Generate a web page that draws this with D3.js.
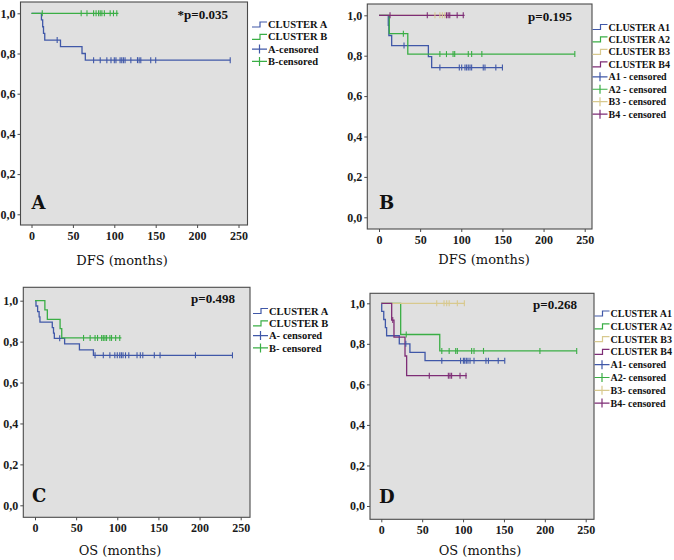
<!DOCTYPE html>
<html>
<head>
<meta charset="utf-8">
<script src="https://cdn.jsdelivr.net/npm/d3@7"></script>
<style>
  html, body { margin: 0; padding: 0; background: #ffffff; }
  svg { display: block; }
</style>
</head>
<body>
<svg id="chart" width="674" height="560"></svg>
<script>
// ---------------- DATA ----------------
const xTicks = [0, 50, 100, 150, 200, 250];
const yTicks = [0, 0.2, 0.4, 0.6, 0.8, 1.0];

// Panel A – DFS, clusters A / B  (steps: [time, survival after event])
const dfsA_steps = [[12, 0.967], [13.5, 0.933], [14.5, 0.9], [16, 0.867], [35, 0.834], [61, 0.800], [65, 0.767]];
const dfsA_end = 240;
const dfsA_censor = [31, 75, 83, 91, 96, 100, 102, 107, 109, 111, 113, 120, 128, 130, 132, 144, 150, 240];
const dfsB_steps = [];
const dfsB_end = 105;
const dfsB_censor = [13, 60, 67, 75, 78, 81, 83, 85, 88, 95, 99, 103];

// Panel B – DFS, clusters A1 / A2 / B3 / B4
const dfsA1_steps = [[11.3, 0.95], [12, 0.90], [15.4, 0.85], [60, 0.795], [64, 0.741]];
const dfsA1_end = 150;
const dfsA1_censor = [30.4, 74, 97.6, 100.5, 104.5, 106.5, 108.5, 110.6, 112.6, 126.7, 128.8, 142, 150];
const dfsA2_steps = [[12.5, 0.909], [35, 0.808]];
const dfsA2_end = 238;
const dfsA2_censor = [29.6, 74, 82, 90, 92, 108.5, 112.6, 125, 238];
const dfsB3_steps = [];
const dfsB3_end = 81;
const dfsB3_censor = [68, 74, 77, 80];
const dfsB4_steps = [];
const dfsB4_end = 104;
const dfsB4_censor = [13.4, 58.7, 82, 84, 86, 95, 102.4];

// Panel C – OS, clusters A / B
const osA_steps = [[1.2, 0.974], [3.2, 0.947], [5, 0.921], [6, 0.895], [21, 0.868], [22.5, 0.842], [23.5, 0.816], [36, 0.789], [54, 0.760], [71, 0.733]];
const osA_end = 240;
const osA_censor = [30, 73, 83, 91, 97, 100, 103, 105, 107, 110, 114, 124, 128, 131, 145, 152, 195, 240];
const osB_steps = [[12, 0.955], [15, 0.909], [30.5, 0.864], [32.5, 0.818]];
const osB_end = 105;
const osB_censor = [59, 67, 73, 76, 81, 83, 85, 87, 91, 93, 98, 103];

// Panel D – OS, clusters A1 / A2 / B3 / B4
const osA1_steps = [[0.5, 0.96], [3, 0.92], [5, 0.88], [6.5, 0.84], [22, 0.80], [35, 0.758], [53.5, 0.717]];
const osA1_end = 151;
const osA1_censor = [30, 74, 97, 100.4, 102, 104, 106, 108.5, 113.4, 128, 131, 143, 151];
const osA2_steps = [[23.7, 0.846], [71.5, 0.765]];
const osA2_end = 239;
const osA2_censor = [30.5, 74, 83, 91, 93, 110.5, 113.4, 125, 194, 239];
const osB3_steps = [];
const osB3_end = 102;
const osB3_censor = [67.8, 76.7, 80, 83, 93, 101.6];
const osB4_steps = [[12.7, 0.917], [15.5, 0.833], [29, 0.74], [31, 0.643]];
const osB4_end = 104.5;
const osB4_censor = [14, 58.7, 82, 84, 86, 96.3, 103.6];

const legendA = ["CLUSTER A", "CLUSTER B", "A-censored", "B-censored"];
const legendB = ["CLUSTER A1", "CLUSTER A2", "CLUSTER B3", "CLUSTER B4", "A1 - censored", "A2 - censored", "B3 - censored", "B4 - censored"];
const legendC = ["CLUSTER A", "CLUSTER B", "A- censored", "B- censored"];
const legendD = ["CLUSTER A1", "CLUSTER A2", "CLUSTER B3", "CLUSTER B4", "A1- censored", "A2- censored", "B3- censored", "B4- censored"];

const pValues = ["*p=0.035", "p=0.195", "p=0.498", "p=0.268"];
const panelLetters = ["A", "B", "C", "D"];
const axisTitles = ["DFS (months)", "DFS (months)", "OS (months)", "OS (months)"];

// ---------------- STYLE / LAYOUT ----------------
const COL = { blue: "#4058a8", green: "#3aae45", tan: "#d8c98e", purple: "#7e2d76" };
const FONT = "'DejaVu Serif', serif";
const FONT_T = "'Liberation Serif', 'Times New Roman', serif";

const panels = [
  { frame: [20.5, 2, 247.5, 225], xr: [31.5, 238.5], yr: [214.3, 13.3],
    series: [
      { steps: dfsA_steps, end: dfsA_end, censor: dfsA_censor, color: COL.blue },
      { steps: dfsB_steps, end: dfsB_end, censor: dfsB_censor, color: COL.green }],
    legend: legendA, lx: 252, ly: 24.5, lstep: 12.3, lfs: 10.5,
    pv: pValues[0], px: 228, py: 14,
    letter: panelLetters[0], letX: 31.5, letY: 209,
    title: axisTitles[0], tx: 122, ty: 265 },
  { frame: [367.3, 4, 592, 229], xr: [379, 584.7], yr: [217.3, 15.3],
    series: [
      { steps: dfsA1_steps, end: dfsA1_end, censor: dfsA1_censor, color: COL.blue },
      { steps: dfsA2_steps, end: dfsA2_end, censor: dfsA2_censor, color: COL.green },
      { steps: dfsB3_steps, end: dfsB3_end, censor: dfsB3_censor, color: COL.tan },
      { steps: dfsB4_steps, end: dfsB4_end, censor: dfsB4_censor, color: COL.purple }],
    legend: legendB, lx: 592.5, ly: 27, lstep: 12.45, lfs: 10,
    pv: pValues[1], px: 572, py: 16,
    letter: panelLetters[1], letX: 379, letY: 209,
    title: axisTitles[1], tx: 484, ty: 264 },
  { frame: [23.3, 287.3, 250, 517.3], xr: [35, 240.7], yr: [505.3, 300.7],
    series: [
      { steps: osA_steps, end: osA_end, censor: osA_censor, color: COL.blue },
      { steps: osB_steps, end: osB_end, censor: osB_censor, color: COL.green }],
    legend: legendC, lx: 253, ly: 311, lstep: 12.3, lfs: 10.5,
    pv: pValues[2], px: 235, py: 298,
    letter: panelLetters[2], letX: 32, letY: 502,
    title: axisTitles[2], tx: 120, ty: 555 },
  { frame: [370, 293.3, 594, 519.3], xr: [381.3, 585.7], yr: [506, 303.3],
    series: [
      { steps: osA1_steps, end: osA1_end, censor: osA1_censor, color: COL.blue },
      { steps: osA2_steps, end: osA2_end, censor: osA2_censor, color: COL.green },
      { steps: osB3_steps, end: osB3_end, censor: osB3_censor, color: COL.tan },
      { steps: osB4_steps, end: osB4_end, censor: osB4_censor, color: COL.purple }],
    legend: legendD, lx: 594.5, ly: 313.5, lstep: 12.8, lfs: 10,
    pv: pValues[3], px: 577, py: 304,
    letter: panelLetters[3], letX: 379, letY: 503,
    title: axisTitles[3], tx: 480, ty: 555 }
];

const svg = d3.select("#chart");

function survAt(steps, t) {
  let s = 1;
  for (const [tt, v] of steps) { if (tt <= t) s = v; }
  return s;
}

panels.forEach(p => {
  const [fx0, fy0, fx1, fy1] = p.frame;
  const x = d3.scaleLinear().domain([0, 250]).range(p.xr);
  const y = d3.scaleLinear().domain([0, 1]).range(p.yr);
  const g = svg.append("g");

  g.append("rect").attr("x", fx0).attr("y", fy0)
    .attr("width", fx1 - fx0).attr("height", fy1 - fy0)
    .attr("fill", "#e0e0e0").attr("stroke", "#4a4a4a").attr("stroke-width", 1.1);

  // axes
  const yAxis = d3.axisLeft(y).tickValues(yTicks).tickSize(3).tickPadding(2)
    .tickFormat(d => d3.format(".1f")(d).replace(".", ","));
  const ya = g.append("g").attr("transform", `translate(${fx0},0)`).call(yAxis);
  const xAxis = d3.axisBottom(x).tickValues(xTicks).tickSize(3).tickPadding(3);
  const xa = g.append("g").attr("transform", `translate(0,${fy1})`).call(xAxis);
  [ya, xa].forEach(a => {
    a.select(".domain").remove();
    a.selectAll(".tick line").attr("stroke", "#4a4a4a");
    a.selectAll(".tick text").attr("font-family", FONT_T).attr("font-weight", "bold")
      .attr("font-size", 12).attr("fill", "#1a1a1a");
  });

  // curves
  const line = d3.line().x(d => x(d[0])).y(d => y(d[1])).curve(d3.curveStepAfter);
  p.series.forEach(s => {
    const last = s.steps.length ? s.steps[s.steps.length - 1][1] : 1;
    const pts = [[0, 1], ...s.steps, [s.end, last]];
    g.append("path").attr("d", line(pts)).attr("fill", "none")
      .attr("stroke", s.color).attr("stroke-width", 1.3);
  });
  p.series.forEach(s => {
    g.selectAll(null).data(s.censor).enter().append("line")
      .attr("x1", d => x(d)).attr("x2", d => x(d))
      .attr("y1", d => y(survAt(s.steps, d)) - 3)
      .attr("y2", d => y(survAt(s.steps, d)) + 3)
      .attr("stroke", s.color).attr("stroke-width", 1.1);
  });

  // p-value, letter, axis title
  g.append("text").attr("x", p.px).attr("y", p.py).attr("dy", "0.35em")
    .attr("text-anchor", "end").attr("font-family", FONT_T).attr("font-weight", "bold")
    .attr("font-size", 13).attr("fill", "#111").text(p.pv);
  g.append("text").attr("x", p.letX).attr("y", p.letY)
    .attr("font-family", FONT).attr("font-weight", "bold")
    .attr("font-size", 18).attr("fill", "#111").text(p.letter);
  g.append("text").attr("x", p.tx).attr("y", p.ty).attr("text-anchor", "middle")
    .attr("font-family", FONT).attr("font-size", 13).attr("fill", "#111").text(p.title);

  // legend
  const n = p.series.length;
  p.legend.forEach((lab, i) => {
    const cy = p.ly + i * p.lstep;
    const s = p.series[i % n];
    const lg = g.append("g");
    if (i < n) {
      lg.append("path")
        .attr("d", `M${p.lx},${cy + 2.5}H${p.lx + 8}V${cy - 2.5}H${p.lx + 15}`)
        .attr("fill", "none").attr("stroke", s.color).attr("stroke-width", 1.2);
    } else {
      lg.append("path")
        .attr("d", `M${p.lx},${cy}H${p.lx + 15}M${p.lx + 7.5},${cy - 4.5}V${cy + 4.5}`)
        .attr("fill", "none").attr("stroke", s.color).attr("stroke-width", 1.2);
    }
    lg.append("text").attr("x", p.lx + 16).attr("y", cy).attr("dy", "0.35em")
      .attr("font-family", FONT_T).attr("font-weight", "bold")
      .attr("font-size", p.lfs).attr("fill", "#111").text(lab);
  });
});
</script>
</body>
</html>
